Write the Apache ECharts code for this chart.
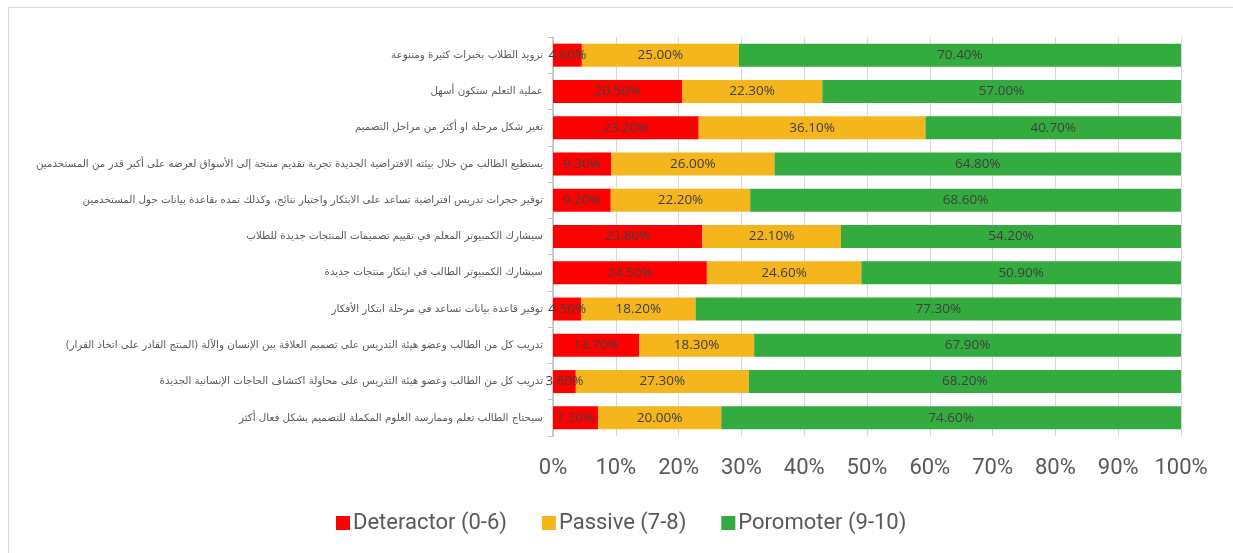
<!DOCTYPE html>
<html>
<head>
<meta charset="utf-8">
<script src="https://cdn.jsdelivr.net/npm/echarts@6/dist/echarts.min.js"></script>
<style>
  html, body { margin: 0; padding: 0; background: #fff; }
  #frame { position: absolute; left: 8px; top: 7px; width: 1240px; height: 560px;
           border-left: 1px solid #d9d9d9; border-top: 1px solid #d9d9d9; }
  #chart { position: absolute; left: 0; top: 0; width: 1233px; height: 553px; }
</style>
</head>
<body>
<div id="frame"></div>
<div id="chart"></div>
<script>
// categories from top to bottom
let categories = [
  'تزويد الطلاب بخبرات كثيرة ومتنوعة',
  'عملية التعلم ستكون أسهل',
  'تغير شكل مرحلة او أكثر من مراحل التصميم',
  'يستطيع الطالب من خلال بيئته الافتراضية الجديدة تجربة تقديم منتجة إلى الأسواق لعرضه على أكبر قدر من المستخدمين',
  'توفير حجرات تدريس افتراضية تساعد على الابتكار واختبار نتائج، وكذلك تمده بقاعدة بيانات حول المستخدمين',
  'سيشارك الكمبيوتر المعلم في تقييم تصميمات المنتجات جديدة للطلاب',
  'سيشارك الكمبيوتر الطالب في ابتكار منتجات جديدة',
  'توفير قاعدة بيانات تساعد في مرحلة ابتكار الأفكار',
  'تدريب كل من الطالب وعضو هيئة التدريس على تصميم العلاقة بين الإنسان والآلة (المنتج القادر على اتخاذ القرار)',
  'تدريب كل من الطالب وعضو هيئة التدريس على محاولة اكتشاف الحاجات الإنسانية الجديدة',
  'سيحتاج الطالب تعلم وممارسة العلوم المكملة للتصميم بشكل فعال أكثر'
]
let detractor = [4.6, 20.5, 23.2, 9.3, 9.2, 23.8, 24.5, 4.5, 13.7, 3.6, 7.3]
let passive = [25.0, 22.3, 36.1, 26.0, 22.2, 22.1, 24.6, 18.2, 18.3, 27.3, 20.0]
let promoter = [70.4, 57.0, 40.7, 64.8, 68.6, 54.2, 50.9, 77.3, 67.9, 68.2, 74.6]
let seriesNames = ['Deteractor (0-6)', 'Passive (7-8)', 'Poromoter (9-10)']
let seriesColors = ['#FF0000', '#F5B51C', '#33AB3F']

let myChart = echarts.init(document.getElementById('chart'))

// 100% stacked like Excel: every row is scaled to its own total
let totals = detractor.map((v, i) => v + passive[i] + promoter[i])

let makeSeries = function (i, data) {
  return {
    name: seriesNames[i],
    type: 'bar',
    stack: 'total',
    barWidth: 23,
    data: data.map((v, j) => ({ value: v / totals[j] * 100, raw: v })),
    itemStyle: { color: seriesColors[i] },
    label: {
      show: true,
      position: 'inside',
      color: '#404040',
      fontFamily: 'Open Sans, sans-serif',
      fontSize: 13.5,
      formatter: function (p) { return p.data.raw.toFixed(2) + '%' }
    }
  }
}

let option = {
  backgroundColor: 'transparent',
  animation: false,
  legend: {
    left: 331,
    top: 507,
    itemWidth: 14,
    itemHeight: 14,
    itemGap: 35,
    icon: 'rect',
    textStyle: { color: '#595959', fontSize: 22, fontFamily: 'Roboto, sans-serif', padding: [0, 0, 0, -2] },
    data: seriesNames
  },
  grid: {
    left: 553,
    right: 52,
    top: 37,
    bottom: 117
  },
  xAxis: {
    type: 'value',
    min: 0,
    max: 100,
    interval: 10,
    axisLine: { show: false },
    axisTick: { show: false },
    splitLine: { lineStyle: { color: '#d9d9d9' } },
    axisLabel: {
      color: '#595959',
      fontSize: 22,
      margin: 21,
      fontFamily: 'Roboto, sans-serif',
      formatter: '{value}%'
    }
  },
  yAxis: {
    type: 'category',
    inverse: true,
    data: categories,
    axisLine: { lineStyle: { color: '#bfbfbf', width: 1.5 } },
    axisTick: { show: true, length: 5, lineStyle: { color: '#bfbfbf' } },
    axisLabel: {
      color: '#595959',
      fontSize: 10.3,
      margin: 10,
      fontFamily: 'DejaVu Sans, sans-serif'
    }
  },
  series: [
    makeSeries(0, detractor),
    makeSeries(1, passive),
    makeSeries(2, promoter)
  ]
}
myChart.setOption(option)
window.onresize = function () {
  myChart.resize()
}
</script>
</body>
</html>
